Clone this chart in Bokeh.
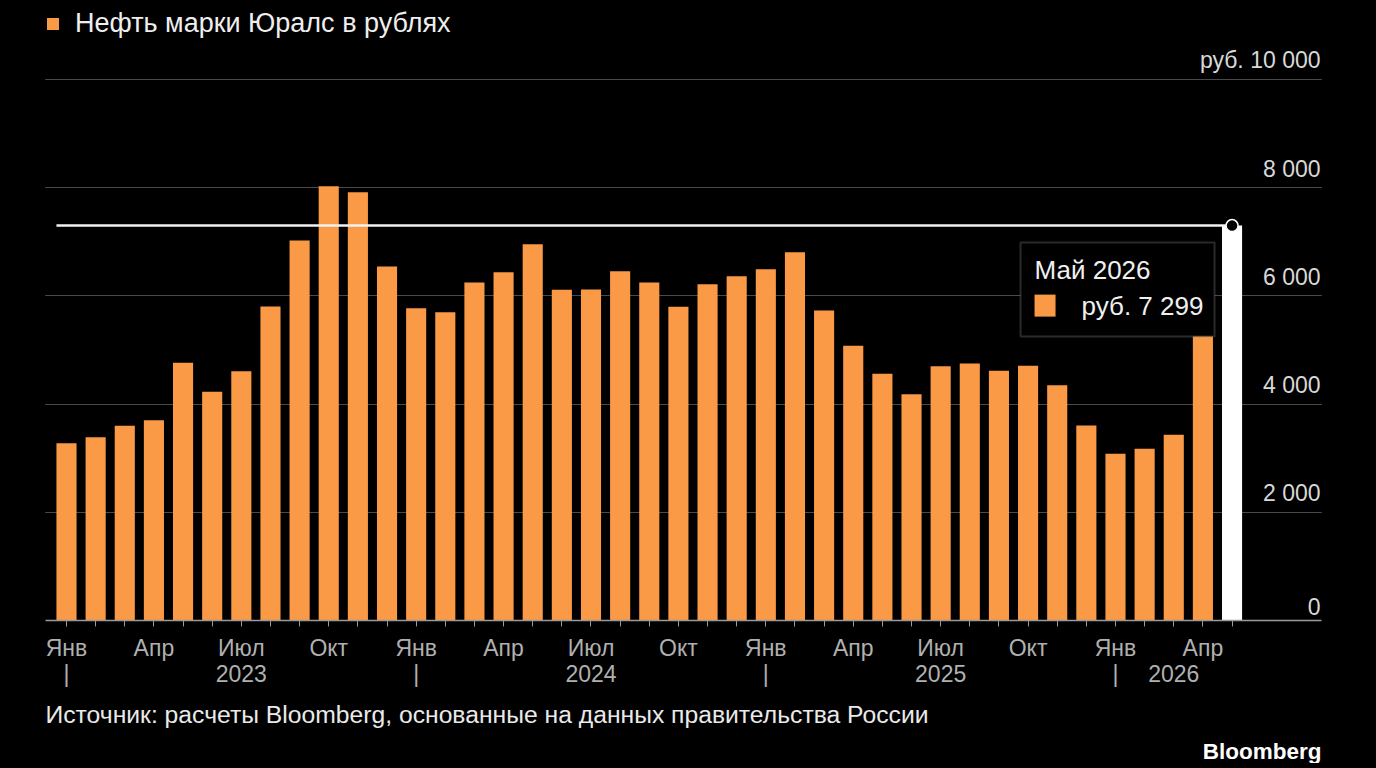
from bokeh.plotting import figure
from bokeh.models import (LinearAxis, FixedTicker, Grid, Range1d, Title,
                          BoxAnnotation, Label)
from bokeh.core.properties import value
from bokeh.embed import file_html
from bokeh.resources import INLINE

# ---------------- data ----------------
months = ["2023-01", "2023-02", "2023-03", "2023-04", "2023-05", "2023-06",
          "2023-07", "2023-08", "2023-09", "2023-10", "2023-11", "2023-12",
          "2024-01", "2024-02", "2024-03", "2024-04", "2024-05", "2024-06",
          "2024-07", "2024-08", "2024-09", "2024-10", "2024-11", "2024-12",
          "2025-01", "2025-02", "2025-03", "2025-04", "2025-05", "2025-06",
          "2025-07", "2025-08", "2025-09", "2025-10", "2025-11", "2025-12",
          "2026-01", "2026-02", "2026-03", "2026-04", "2026-05"]
urals_rub = [3277, 3388, 3598, 3703, 4763, 4227, 4609, 5804, 7024, 8028, 7917, 6543,
             5773, 5699, 6248, 6438, 6956, 6112, 6118, 6457, 6248, 5798, 6216, 6364,
             6494, 6808, 5730, 5077, 4560, 4183, 4701, 4750, 4615, 4707, 4350, 3604,
             3081, 3173, 3432, 5800, 7299]
month_names = {1: "Янв", 4: "Апр", 7: "Июл", 10: "Окт"}
y_ticks = [0, 2000, 4000, 6000, 8000, 10000]
y_tick_labels = ["0", "2 000", "4 000", "6 000", "8 000", "руб. 10 000"]
legend_text = "Нефть марки Юралс в рублях"
tooltip_title = "Май 2026"
tooltip_value = "руб. 7 299"
source_text = "Источник: расчеты Bloomberg, основанные на данных правительства России"
brand_text = "Bloomberg"

# ---------------- styles ----------------
ORANGE = "#FA9A47"
FONT = "Liberation Sans"
BAR_W = 0.69
FW, FH = 1276, 612
X0, X1 = -0.7207, 43.07
Y0, Y1 = 0, 11312
SX = FW / (X1 - X0)   # px per month
SY = FH / (Y1 - Y0)   # px per rouble

n = len(months)
idx = list(range(n))
month_num = [int(m.split("-")[1]) for m in months]
year_of = [m.split("-")[0] for m in months]

p = figure(frame_width=FW, frame_height=FH,
           x_range=Range1d(X0, X1), y_range=Range1d(Y0, Y1),
           output_backend="svg", toolbar_location=None,
           y_axis_location=None, x_axis_location="below",
           background_fill_color="black", border_fill_color="black",
           outline_line_color=None,
           min_border_left=45, min_border_right=52,
           min_border_top=8, min_border_bottom=140)
p.xgrid.visible = False

p.add_layout(Grid(dimension=1, ticker=FixedTicker(ticks=y_ticks[1:]),
                  grid_line_color="#4a4a4a", grid_line_width=1))

# month axis
ax = p.xaxis[0]
ax.ticker = FixedTicker(ticks=idx)
ax.major_label_overrides = {i: month_names.get(mn, "") for i, mn in zip(idx, month_num)}
ax.axis_line_color = "#9a9a9a"
ax.axis_line_width = 1.5
ax.major_tick_line_color = "#9a9a9a"
ax.major_tick_out = 6
ax.major_tick_in = 0
ax.minor_tick_line_color = None
ax.major_label_standoff = 8
ax.major_label_text_font = FONT
ax.major_label_text_font_size = "23px"
ax.major_label_text_color = "#b0b0b0"

# year axis
year_ticks, year_over = [], {}
for i, mn in enumerate(month_num):
    if mn == 1:
        year_ticks.append(i)
        year_over[i] = "|"
for y in sorted(set(year_of)):
    ii = [i for i in idx if year_of[i] == y]
    pos = (ii[0] + ii[-1]) / 2 if len(ii) < 12 else ii[6]
    year_ticks.append(pos)
    year_over[pos] = y
yax = LinearAxis(ticker=FixedTicker(ticks=year_ticks), major_label_overrides=year_over,
                 axis_line_color=None, major_tick_line_color=None, major_tick_out=0,
                 major_tick_in=0, minor_tick_line_color=None, minor_tick_out=0,
                 major_label_standoff=-3, major_label_text_font=FONT,
                 major_label_text_font_size="23px", major_label_text_color="#b0b0b0")
p.add_layout(yax, "below")

# bars
p.vbar(x=idx[:-1], top=urals_rub[:-1], width=BAR_W, fill_color=ORANGE,
       line_color=None, legend_label=legend_text)
p.vbar(x=[idx[-1]], top=[urals_rub[-1]], width=BAR_W, fill_color="white", line_color=None)

# reference line at latest value
last_x, last_y = idx[-1], urals_rub[-1]
p.segment(x0=[idx[0] - BAR_W / 2], y0=[last_y], x1=[last_x], y1=[last_y],
          line_color="#f2f2f2", line_width=2.5)
p.scatter(x=[last_x], y=[last_y], size=12, fill_color="black",
          line_color="white", line_width=1.5)

# y tick labels (above gridlines, right aligned)
p.text(x=[X1] * len(y_ticks), y=y_ticks, text=y_tick_labels,
       text_align="right", text_baseline="bottom", x_offset=-1, y_offset=-6,
       text_font=value(FONT), text_font_size="23px", text_color="#d8d8d8")

# tooltip box
p.add_layout(BoxAnnotation(left=last_x - 211.5 / SX, right=last_x - 17.5 / SX,
                           top=last_y - 17 / SY, bottom=last_y - 111 / SY,
                           fill_color="black", fill_alpha=1.0,
                           line_color="#8a8a8a", line_width=2))
p.add_layout(BoxAnnotation(left=last_x - 197.5 / SX, right=last_x - 176.5 / SX,
                           top=last_y - 69 / SY, bottom=last_y - 91 / SY,
                           fill_color=ORANGE, fill_alpha=1.0, line_color=None))
p.add_layout(Label(x=last_x - 197.5 / SX, y=last_y - 44 / SY, text=tooltip_title,
                   text_baseline="alphabetic", text_align="left",
                   text_font=FONT, text_font_size="26px", text_color="#f0f0f0"))
p.add_layout(Label(x=last_x - 150.5 / SX, y=last_y - 80 / SY, text=tooltip_value,
                   text_baseline="alphabetic", text_align="left",
                   text_font=FONT, text_font_size="26px", text_color="#f0f0f0"))

# legend
lg = p.legend[0]
lg.location = "top_left"
lg.margin = 0
lg.padding = 0
lg.glyph_width = 15
lg.glyph_height = 15
lg.label_standoff = 15
lg.label_text_font = FONT
lg.label_text_font_size = "27px"
lg.label_text_color = "#eeeeee"
lg.background_fill_alpha = 0
lg.border_line_alpha = 0

# footer
p.add_layout(Title(text=source_text, align="left", text_font=FONT,
                   text_font_size="24.7px", text_font_style="normal",
                   text_color="#eaeaea", standoff=18), "below")
p.add_layout(Title(text=brand_text, align="right", text_font=FONT,
                   text_font_size="22.5px", text_font_style="bold",
                   text_color="white", standoff=0), "below")

html = file_html(p, INLINE)
html = html.replace("</head>",
                    "<style>html,body{background:#000000;overflow:hidden;}</style></head>", 1)
open("out.html", "w").write(html)
